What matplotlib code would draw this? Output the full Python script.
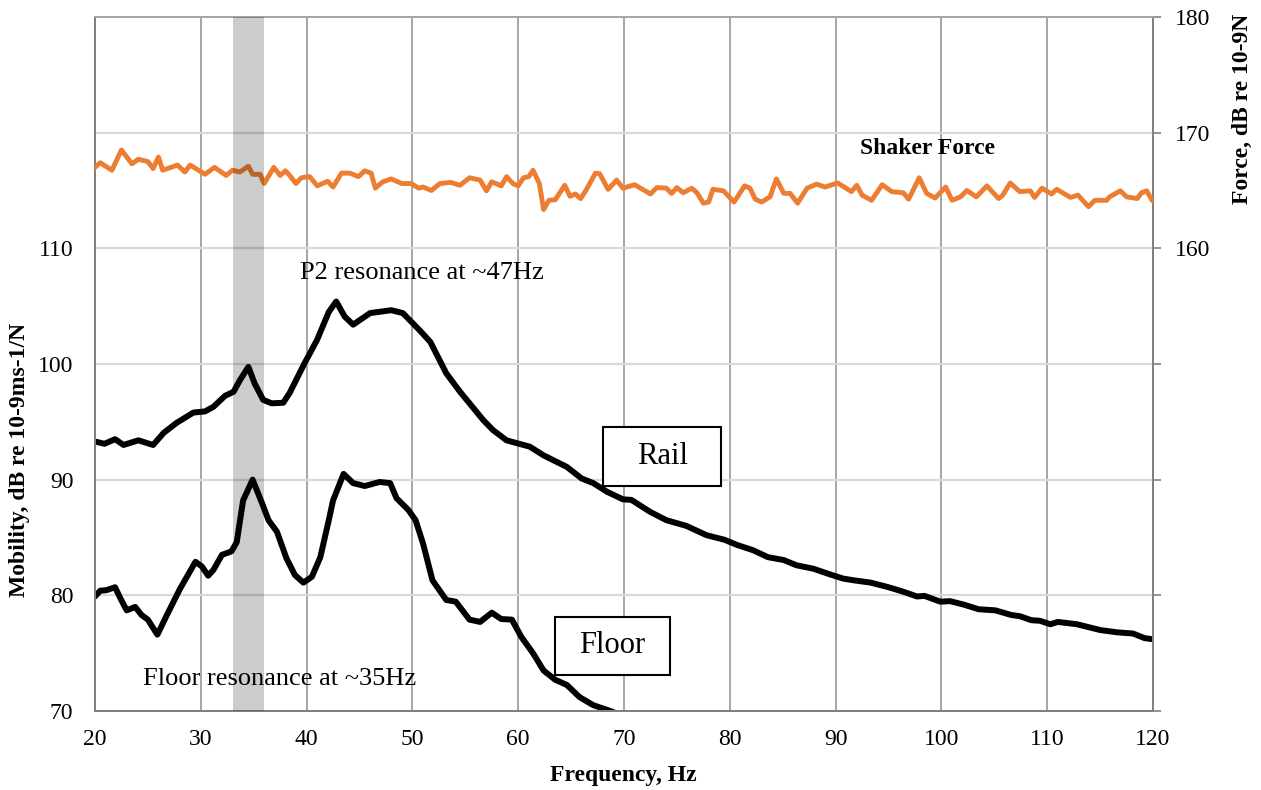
import matplotlib.pyplot as plt
from matplotlib.patches import Rectangle

plt.rcParams['font.family'] = ['Liberation Serif', 'DejaVu Serif']

# shaker force (right axis, dB re 10-9N)
force_freq = [20.0, 20.5, 21.6, 22.5, 23.5, 24.1, 25.0, 25.5, 26.0, 26.4, 27.8, 28.5, 29.0, 30.4,
              31.3, 32.4, 33.0, 33.7, 34.5, 34.9, 35.6, 36.0, 36.9, 37.5, 38.0, 38.4, 39.0, 39.5,
              40.3, 41.0, 42.0, 42.5, 43.3, 44.1, 44.9, 45.5, 46.1, 46.5, 47.2, 48.0, 49.0, 49.9,
              50.6, 51.0, 51.8, 52.6, 53.6, 54.5, 55.4, 56.4, 57.0, 57.5, 58.4, 58.9, 59.5, 60.0,
              60.5, 61.0, 61.4, 62.0, 62.4, 62.9, 63.5, 64.4, 64.9, 65.4, 65.9, 66.4, 67.3, 67.7,
              68.5, 69.3, 69.9, 71.0, 72.5, 73.1, 74.0, 74.5, 75.0, 75.6, 76.4, 76.9, 77.5, 78.0,
              78.4, 79.4, 80.4, 81.4, 81.9, 82.4, 83.0, 83.8, 84.4, 85.1, 85.7, 86.4, 87.3, 88.2,
              89.0, 90.2, 91.5, 92.0, 92.5, 93.4, 94.4, 95.3, 96.4, 96.9, 97.9, 98.6, 99.4, 100.4,
              101.0, 101.8, 102.4, 103.3, 104.3, 105.4, 105.8, 106.5, 107.4, 108.4, 108.8, 109.5,
              110.4, 110.9, 112.2, 112.9, 113.9, 114.5, 115.6, 115.9, 116.9, 117.5, 118.5, 118.9,
              119.4, 119.9, 120.0]
force = [167.0, 167.4, 166.75, 168.5, 167.3, 167.7, 167.5, 166.9, 167.9, 166.75, 167.2, 166.6, 167.2, 166.4,
         167.0, 166.3, 166.75, 166.6, 167.1, 166.4, 166.4, 165.6, 167.0, 166.3, 166.7, 166.3, 165.6, 166.1,
         166.2, 165.4, 165.8, 165.3, 166.5, 166.5, 166.2, 166.7, 166.5, 165.2, 165.75, 166.0, 165.6, 165.6,
         165.2, 165.3, 165.0, 165.6, 165.7, 165.45, 166.1, 165.9, 164.97, 165.75, 165.4, 166.2, 165.6, 165.4,
         166.1, 166.2, 166.75, 165.6, 163.35, 164.15, 164.2, 165.45, 164.5, 164.7, 164.3, 165.0, 166.5, 166.45,
         165.1, 165.9, 165.2, 165.5, 164.7, 165.25, 165.2, 164.75, 165.25, 164.8, 165.2, 164.8, 163.9, 164.0,
         165.1, 164.97, 164.0, 165.4, 165.2, 164.25, 164.0, 164.45, 166.0, 164.75, 164.75, 163.9, 165.2, 165.55,
         165.3, 165.65, 164.9, 165.45, 164.6, 164.15, 165.5, 164.9, 164.8, 164.25, 166.1, 164.75, 164.35, 165.3,
         164.15, 164.45, 165.0, 164.45, 165.4, 164.3, 164.6, 165.65, 164.9, 164.97, 164.4, 165.2,
         164.7, 165.1, 164.4, 164.6, 163.6, 164.15, 164.15, 164.45, 164.97, 164.45, 164.3, 164.8,
         164.97, 164.15, 164.1]

# rail mobility (left axis)
rail_freq = [20.0, 20.9, 21.9, 22.7, 24.1, 25.5, 26.5, 27.7, 29.3, 30.4, 31.2, 32.3, 33.1, 33.7,
             34.5, 35.1, 35.9, 36.7, 37.8, 38.4, 39.8, 41.0, 42.1, 42.8, 43.6, 44.4, 46.0, 48.0,
             49.1, 50.7, 51.7, 53.2, 54.5, 55.4, 56.7, 57.6, 58.9, 61.1, 62.4, 64.6, 66.0, 67.1,
             68.4, 69.9, 70.7, 72.5, 74.0, 75.9, 77.8, 79.5, 80.7, 82.2, 83.6, 85.1, 86.3, 87.9,
             89.5, 90.7, 91.7, 93.3, 94.8, 96.1, 97.7, 98.4, 99.9, 100.8, 102.1, 103.5, 105.1,
             106.6, 107.4, 108.5, 109.3, 110.3, 111.0, 112.8, 115.0, 116.6, 118.1, 119.2, 120.0]
rail = [93.3, 93.1, 93.5, 93.0, 93.4, 93.0, 94.05, 94.9, 95.8, 95.9, 96.3, 97.25, 97.6, 98.6,
        99.75, 98.3, 96.9, 96.6, 96.65, 97.5, 100.05, 102.1, 104.5, 105.4, 104.1, 103.4, 104.4, 104.65,
        104.4, 102.9, 101.9, 99.2, 97.6, 96.6, 95.15, 94.3, 93.4, 92.85, 92.1, 91.1, 90.1, 89.7,
        88.95, 88.3, 88.25, 87.2, 86.5, 86.0, 85.2, 84.8, 84.35, 83.9, 83.3, 83.05, 82.6, 82.3,
        81.8, 81.45, 81.3, 81.1, 80.75, 80.4, 79.9, 79.95, 79.45, 79.5, 79.2, 78.8, 78.7,
        78.3, 78.2, 77.85, 77.8, 77.5, 77.7, 77.5, 77.0, 76.8, 76.7, 76.3, 76.2]

# floor mobility (left axis)
floor_freq = [20.0, 20.5, 21.1, 21.9, 22.4, 23.0, 23.8, 24.4, 25.0, 25.9, 26.8, 28.0, 29.5, 30.1,
              30.7, 31.2, 32.0, 32.9, 33.4, 34.0, 34.9, 35.8, 36.4, 37.2, 38.1, 38.9, 39.7, 40.5,
              41.3, 42.1, 42.5, 43.5, 44.4, 45.5, 46.9, 47.9, 48.5, 49.6, 50.3, 51.0, 51.9, 53.2,
              54.1, 55.4, 56.4, 57.5, 58.4, 59.4, 60.3, 61.4, 62.4, 63.5, 64.6, 65.8, 67.1, 68.4,
              69.0, 70.0]
floor = [79.9, 80.4, 80.45, 80.7, 79.75, 78.7, 79.0, 78.3, 77.9, 76.6, 78.3, 80.5, 82.9, 82.5,
         81.7, 82.2, 83.5, 83.8, 84.6, 88.2, 90.0, 87.95, 86.5, 85.5, 83.2, 81.75, 81.1, 81.6,
         83.3, 86.5, 88.2, 90.5, 89.7, 89.45, 89.8, 89.7, 88.4, 87.4, 86.5, 84.5, 81.3, 79.6,
         79.45, 77.9, 77.7, 78.5, 77.95, 77.9, 76.4, 75.0, 73.5, 72.7, 72.25, 71.2, 70.5, 70.1,
         69.9, 69.4]

x_ticks = [20, 30, 40, 50, 60, 70, 80, 90, 100, 110, 120]
mob_ticks = [70, 80, 90, 100, 110, 120, 130]
mob_labels = ['70', '80', '90', '100', '110', '', '']
force_ticks = [120, 130, 140, 150, 160, 170, 180]
force_labels = ['', '', '', '', '160', '170', '180']

fig = plt.figure(figsize=(12.61, 7.9), dpi=100)
ax = fig.add_axes([0.0753, 0.1, 0.8391, 0.8785])
ax2 = ax.twinx()

ax.set_xlim(20, 120)
ax.set_ylim(70, 130)
ax2.set_ylim(120, 180)

# grid: darker verticals, light horizontals
for x in x_ticks[1:-1]:
    ax.axvline(x, color='#A6A6A6', lw=1.4, zorder=0)
for y in mob_ticks[1:-1]:
    ax.axhline(y, color='#D9D9D9', lw=1.6, zorder=0)

ax.plot(rail_freq, rail, color='black', lw=4.3, solid_joinstyle='round',
        solid_capstyle='round', zorder=3)
ax.plot(floor_freq, floor, color='black', lw=4.3, solid_joinstyle='round',
        solid_capstyle='round', zorder=3)
ax2.plot(force_freq, force, color='#ED7D31', lw=3.5, solid_joinstyle='round', zorder=3)

# highlighted band around the floor resonance
ax2.axvspan(33, 36, color='black', alpha=0.2, lw=0, zorder=5)

ax.set_xticks(x_ticks)
ax.set_xticklabels([str(t) for t in x_ticks])
ax.set_yticks(mob_ticks)
ax.set_yticklabels(mob_labels)
ax.tick_params(axis='x', length=0, pad=13, labelsize=17)
ax.tick_params(axis='y', length=0, pad=15.5, labelsize=17)

ax2.set_yticks(force_ticks)
ax2.set_yticklabels(force_labels)
ax2.tick_params(axis='y', direction='out', length=5.5, width=1.2, color='#808080',
                pad=10, labelsize=17)

for a in (ax, ax2):
    a.spines['left'].set_color('#808080')
    a.spines['bottom'].set_color('#808080')
    a.spines['right'].set_color('#808080')
    a.spines['top'].set_color('#A6A6A6')
    for s in a.spines.values():
        s.set_linewidth(1.4)

# annotations
ax.text(39.4, 107.9, 'P2 resonance at ~47Hz', fontsize=19, ha='left', va='center', zorder=6)
ax.text(24.5, 72.8, 'Floor resonance at ~35Hz', fontsize=19, ha='left', va='center', zorder=6)
ax2.text(92.3, 168.6, 'Shaker Force', fontsize=17, fontweight='bold', ha='left', va='center')

rail_box = (68.0, 89.45, 11.2, 5.12)
floor_box = (63.5, 73.1, 10.8, 5.05)
for (bx, by, bw, bh), name in [(rail_box, 'Rail'), (floor_box, 'Floor')]:
    ax2.add_patch(Rectangle((bx, by + 50), bw, bh, facecolor='white', edgecolor='black',
                            lw=1.5, zorder=7))
    ax2.text(bx + bw / 2, by + 50 + bh / 2, name, fontsize=22, ha='center', va='center', zorder=8)

fig.text(623 / 1261, 1 - 776 / 790, 'Frequency, Hz', fontsize=17, fontweight='bold',
         ha='center', va='center')
fig.text(20 / 1261, 1 - 460 / 790, 'Mobility, dB re 10-9ms-1/N', fontsize=17, fontweight='bold',
         rotation=90, ha='center', va='center')
fig.text(1242 / 1261, 1 - 109 / 790, 'Force, dB re 10-9N', fontsize=17, fontweight='bold',
         rotation=90, ha='center', va='center')

fig.savefig('out.png', dpi=100)
